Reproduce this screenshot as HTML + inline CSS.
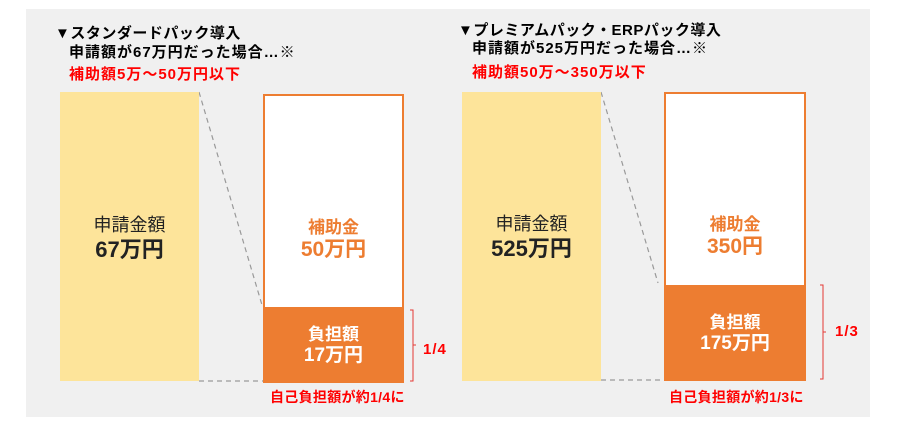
<!DOCTYPE html>
<html><head><meta charset="utf-8"><style>
body{margin:0;width:900px;height:422px;background:#fff;position:relative;overflow:hidden;font-family:"Liberation Sans","Noto Sans CJK JP",sans-serif}
.a{position:absolute}
.t{position:absolute;font-weight:bold;white-space:nowrap;font-size:15px;line-height:18px;letter-spacing:0.5px}
.c{position:absolute;text-align:center;white-space:nowrap}
</style></head><body>
<div class="a" style="left:26px;top:9px;width:844px;height:408px;background:#f0f0f0"></div>
<svg class="a" style="left:0;top:0" width="900" height="422">
<g stroke="#999" stroke-width="1.2" stroke-dasharray="5,4" fill="none">
<line x1="199" y1="92" x2="262" y2="305"/><line x1="199" y1="381" x2="263" y2="381"/>
<line x1="601" y1="92" x2="658" y2="283"/><line x1="601" y1="380" x2="664" y2="380"/>
</g>
<g stroke="#e53935" stroke-width="1" fill="none">
<path d="M410 310h3v71h-3M413 345h3"/>
<path d="M820 285h3v94h-3M823 332h3"/>
</g>
</svg>
<div class="a" style="left:60px;top:92px;width:139px;height:289px;background:#fde49a"></div>
<div class="a" style="left:462px;top:92px;width:139px;height:289px;background:#fde49a"></div>
<div class="a" style="left:263px;top:94px;width:137px;height:285px;border:2px solid #ed7d31;background:#fff"></div>
<div class="a" style="left:263px;top:307px;width:141px;height:75px;background:#ed7d31"></div>
<div class="a" style="left:664px;top:92px;width:138px;height:285px;border:2px solid #ed7d31;background:#fff"></div>
<div class="a" style="left:664px;top:285px;width:142px;height:96px;background:#ed7d31"></div>

<div class="t" style="left:55px;top:25px">▼スタンダードパック導入</div>
<div class="t" style="left:69px;top:44px;letter-spacing:1px">申請額が67万円だった場合…※</div>
<div class="t" style="left:69px;top:66px;color:#f00;letter-spacing:1px">補助額5万～50万円以下</div>
<div class="t" style="left:458px;top:22px">▼プレミアムパック・ERPパック導入</div>
<div class="t" style="left:472px;top:40px;letter-spacing:1px">申請額が525万円だった場合…※</div>
<div class="t" style="left:472px;top:64px;color:#f00;letter-spacing:1px">補助額50万～350万以下</div>

<div class="c" style="left:60px;width:139px;top:211px;font-size:18px;color:#222">申請金額</div>
<div class="c" style="left:60px;width:139px;top:232px;font-size:22px;font-weight:bold;color:#222">67万円</div>
<div class="c" style="left:462px;width:139px;top:210px;font-size:18px;color:#222">申請金額</div>
<div class="c" style="left:462px;width:139px;top:231px;font-size:22px;font-weight:bold;color:#222">525万円</div>

<div class="c" style="left:263px;width:141px;top:213px;font-size:17px;font-weight:bold;color:#ed7d31">補助金</div>
<div class="c" style="left:263px;width:141px;top:233px;font-size:21px;font-weight:bold;color:#ed7d31">50万円</div>
<div class="c" style="left:664px;width:142px;top:210px;font-size:17px;font-weight:bold;color:#ed7d31">補助金</div>
<div class="c" style="left:664px;width:142px;top:230px;font-size:21px;font-weight:bold;color:#ed7d31">350円</div>

<div class="c" style="left:263px;width:141px;top:320px;font-size:17px;font-weight:bold;color:#fff">負担額</div>
<div class="c" style="left:263px;width:141px;top:340px;font-size:19px;font-weight:bold;color:#fff">17万円</div>
<div class="c" style="left:664px;width:142px;top:308px;font-size:17px;font-weight:bold;color:#fff">負担額</div>
<div class="c" style="left:664px;width:142px;top:328px;font-size:19px;font-weight:bold;color:#fff">175万円</div>

<div class="t" style="left:423px;top:341px;color:#f00;letter-spacing:1px">1/4</div>
<div class="t" style="left:835px;top:323px;color:#f00;letter-spacing:1px">1/3</div>
<div class="t" style="left:270px;top:388px;color:#f00;font-size:14px;letter-spacing:0.3px">自己負担額が約1/4に</div>
<div class="t" style="left:669px;top:388px;color:#f00;font-size:14px;letter-spacing:0.3px">自己負担額が約1/3に</div>
</body></html>
